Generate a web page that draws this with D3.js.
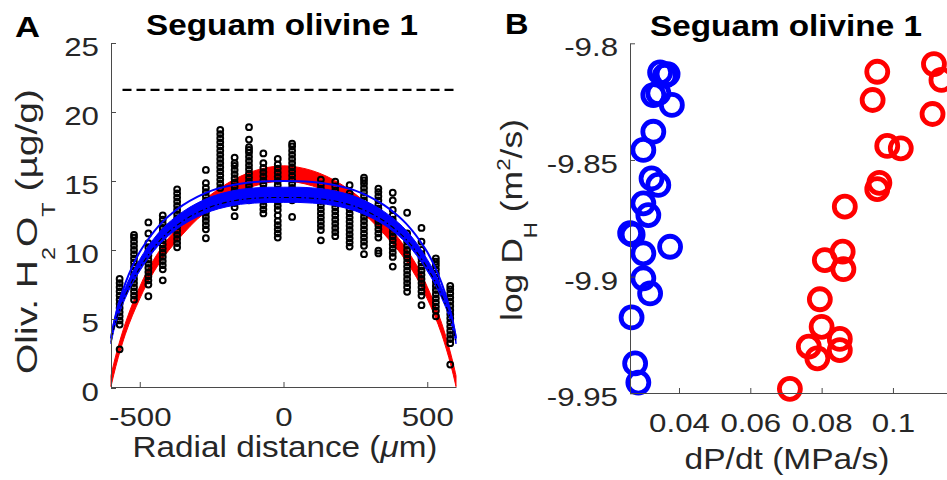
<!DOCTYPE html>
<html><head><meta charset="utf-8">
<script src="https://cdn.jsdelivr.net/npm/d3@7"></script>
<style>body{margin:0;background:#fff}svg{display:block}text{font-family:"Liberation Sans",Arial,sans-serif}</style>
</head><body><svg id="c" width="947" height="480"></svg>
<script>
// ---------- Panel A data ----------
const colX = [-570,-520,-470,-420,-370,-270,-220,-170,-120,-70,-20,30,130,180,230,280,330,380,430,480,530,580];
const colY = [
 [2.8,4.6,4.9,5.2,5.5,5.8,6.1,6.4,6.7,7.0,7.3,7.6,7.9],
 [6.4,6.7,7.0,7.3,7.6,7.9,8.2,8.5,8.8,9.1,9.4,9.7,10.0,10.3,10.6,10.9,11.1],
 [6.65,7.5,7.8,8.1,8.4,8.7,9.0,9.3,9.6,9.9,10.2,10.5,11.2,12.0],
 [7.8,8.6,8.9,9.2,9.5,9.8,10.1,10.4,10.7,11.0,11.3,11.6,11.9,12.2,12.5],
 [10.2,10.5,10.8,11.1,11.4,11.7,12.0,12.3,12.6,12.9,13.2,13.5,13.8,14.1,14.4],
 [10.85,11.5,11.8,12.1,12.4,12.7,13.0,13.3,13.6,13.9,14.2,14.5,14.85,15.8],
 [14.5,14.8,15.1,15.4,15.7,16.0,16.3,16.6,16.9,17.2,17.5,17.8,18.1,18.4,18.7],
 [12.45,13.1,13.4,13.7,14.0,14.3,14.6,14.9,15.2,15.5,15.8,16.1,16.3,16.7],
 [13.6,14.35,14.65,14.95,15.25,15.55,15.85,16.15,16.45,16.75,17.05,17.25,17.45,18.0,18.9],
 [12.65,12.95,13.25,13.55,13.85,14.15,14.45,14.75,15.05,15.35,15.65,15.95,16.3,17.0],
 [10.9,11.2,11.5,11.8,12.1,12.5,12.9,13.2,13.5,13.8,14.1,14.4,14.7,15.0,15.3,15.6,15.9,16.2,16.6],
 [12.4,13.6,13.9,14.2,14.5,14.8,15.1,15.4,15.7,16.0,16.3,16.6,16.9,17.2,17.5,17.7],
 [10.7,11.45,11.75,12.05,12.35,12.65,12.95,13.25,13.55,13.85,14.15,14.45,14.75,15.1],
 [11.0,11.3,11.6,11.9,12.2,12.5,12.8,13.1,13.4,13.7,14.0,14.3,14.6,14.95],
 [10.25,10.55,10.85,11.15,11.45,11.75,12.05,12.35,12.65,12.95,13.25,13.55,13.85,14.1,14.7],
 [9.7,10.3,10.6,10.9,11.2,11.5,11.8,12.1,12.4,12.7,13.0,13.3,13.6,13.9,14.2,14.5,14.8,15.05,15.25],
 [9.75,9.95,10.9,11.2,11.5,11.8,12.1,12.4,12.7,13.0,13.3,13.6,13.9,14.2,14.45],
 [8.8,9.5,9.8,10.1,10.4,10.7,11.0,11.3,11.6,11.9,12.2,12.5,12.9,13.6,14.15],
 [6.97,7.3,7.6,7.9,8.2,8.5,8.8,9.1,9.4,9.7,10.0,10.3,10.6,10.9,11.2,12.7],
 [6.0,6.7,7.0,7.3,7.6,7.9,8.2,8.5,8.8,9.1,9.4,9.7,10.0,10.6,11.6],
 [5.2,5.6,5.9,6.2,6.5,6.8,7.1,7.4,7.7,8.0,8.3,8.6,8.9,9.15,9.4],
 [1.7,3.25,3.55,3.85,4.15,4.45,4.75,5.05,5.35,5.65,5.95,6.25,6.55,6.85,7.15,7.4]
];
const profX = [-600,-590,-575,-550,-525,-500,-475,-450,-425,-400,-350,-300,-250,-200,-150,-100,-50,0,50,100,150,200,250,300,350,400,425,450,475,500,525,550,575,590,600];
const redUpper = [0.9,1.8,3.0,4.7,6.12,7.34,8.45,9.35,10.15,10.85,12.05,13.17,14.05,14.77,15.34,15.75,16.0,16.1,16.0,15.75,15.34,14.77,14.05,13.17,12.05,10.85,10.15,9.35,8.45,7.34,6.12,4.7,3.0,1.8,0.9];
const redLower = [0.1,1.0,2.2,3.9,5.28,6.46,7.55,8.45,9.25,9.95,11.15,12.23,13.05,13.73,14.26,14.65,14.9,15.0,14.9,14.65,14.26,13.73,13.05,12.23,11.15,9.95,9.25,8.45,7.55,6.46,5.28,3.9,2.2,1.0,0.1];
const blueUpper = [3.8,4.82,5.95,7.28,8.4,9.32,10.14,10.85,11.46,11.97,12.78,13.4,13.87,14.18,14.39,14.5,14.55,14.55,14.55,14.5,14.39,14.18,13.87,13.4,12.78,11.97,11.46,10.85,10.14,9.32,8.4,7.28,5.95,4.82,3.8];
const blueLower = [3.2,4.18,5.25,6.52,7.6,8.48,9.26,9.95,10.54,11.03,11.82,12.4,12.83,13.12,13.31,13.4,13.45,13.45,13.45,13.4,13.31,13.12,12.83,12.4,11.82,11.03,10.54,9.95,9.26,8.48,7.6,6.52,5.25,4.18,3.2];
const blueLine = [3.6,4.7,6.0,7.6,8.85,9.85,10.65,11.35,11.95,12.45,13.25,13.85,14.3,14.6,14.8,14.92,14.98,15.0,14.98,14.92,14.8,14.6,14.3,13.85,13.25,12.45,11.95,11.35,10.65,9.85,8.85,7.6,6.0,4.7,3.6];
const bestFit = [3.3,4.3,5.4,6.7,7.8,8.7,9.5,10.2,10.8,11.3,12.1,12.7,13.15,13.45,13.65,13.75,13.8,13.8,13.8,13.75,13.65,13.45,13.15,12.7,12.1,11.3,10.8,10.2,9.5,8.7,7.8,6.7,5.4,4.3,3.3];
const refLevel = 21.6;
const refX = [-560, 600];
const xTicksA = [-500, 0, 500];
const yTicksA = [0, 5, 10, 15, 20, 25];

// ---------- Panel B data ----------
const blueDP = [0.0347,0.0360,0.0368,0.0328,0.0342,0.0380,0.0328,0.0300,0.0323,0.0342,0.0300,0.0314,0.0263,0.0270,0.0375,0.0300,0.0300,0.0319,0.0267,0.0277,0.0286];
const blueD  = [-9.8125,-9.8140,-9.8132,-9.8222,-9.8214,-9.8264,-9.8379,-9.8457,-9.8579,-9.8607,-9.8686,-9.8736,-9.8814,-9.8820,-9.8872,-9.8900,-9.9007,-9.9072,-9.9175,-9.9372,-9.9454];
const redDP = [0.0956,0.1115,0.1136,0.0943,0.1111,0.0984,0.1022,0.0962,0.0956,0.0865,0.0859,0.0809,0.0861,0.0795,0.0800,0.0851,0.0764,0.0788,0.0851,0.0711];
const redD  = [-9.8122,-9.8089,-9.8157,-9.8243,-9.8303,-9.8440,-9.8450,-9.8598,-9.8625,-9.8700,-9.8893,-9.8929,-9.8968,-9.9097,-9.9215,-9.9267,-9.9300,-9.9350,-9.9315,-9.9481];
const xTicksB = [0.04, 0.06, 0.08, 0.1];
const yTicksB = [-9.95, -9.9, -9.85, -9.8];

// ---------- drawing ----------
const svg = d3.select("#c");
svg.append("rect").attr("width",947).attr("height",480).attr("fill","#fff");
const AXC = "#4a4a4a", TXT = "#262626";
const TICKFONT = 25, TICKSTRETCH = 1.25;

function stretchTicks(sel, s){
  sel.each(function(){
    const t = d3.select(this);
    const x = +t.attr("x")||0, y = +t.attr("y")||0;
    t.attr("x",0).attr("y",0).attr("transform",`translate(${x},${y}) scale(${s},1)`);
  });
}
function styleAxis(g){
  g.select(".domain").attr("stroke",AXC).attr("stroke-width",1);
  g.selectAll(".tick line").attr("stroke",AXC).attr("stroke-width",1);
  g.selectAll("text").attr("fill",TXT).attr("font-size",TICKFONT).attr("font-family","Liberation Sans, Arial, sans-serif");
}
function label(x, y, target, rot, size, bold, build){
  const t = svg.append("text").attr("x",0).attr("y",0).attr("text-anchor",rot==="start"?"start":"middle")
    .attr("font-size",size).attr("fill",bold?"#000":TXT).attr("font-weight",bold?"bold":"normal");
  build(t);
  const L = t.node().getComputedTextLength();
  const s = target / L;
  t.attr("transform",`translate(${x},${y})${rot===true?" rotate(-90)":""} scale(${s},1)`);
  return t;
}

// Panel A scales
const xA = d3.scaleLinear([-600,600],[111,456]);
const yA = d3.scaleLinear([0,25],[388,43]);
const curve = d3.curveCatmullRom.alpha(0.5);

const areaA = (up, lo) => d3.area().x((d,i)=>xA(profX[i])).y0((d,i)=>yA(lo[i])).y1((d,i)=>yA(up[i])).curve(curve)(profX);
const lineA = (vals) => d3.line().x((d,i)=>xA(profX[i])).y((d,i)=>yA(vals[i])).curve(curve)(profX);

// reference dashed line
svg.append("line").attr("x1",xA(refX[0])).attr("x2",xA(refX[1])).attr("y1",yA(refLevel)).attr("y2",yA(refLevel))
  .attr("stroke","#000").attr("stroke-width",2.4).attr("stroke-dasharray","9,5");

// red band
svg.append("path").attr("d",areaA(redUpper,redLower)).attr("fill","#ff0000").attr("stroke","#ff0000").attr("stroke-width",1);

// data points
const pts = [];
colX.forEach((x,i)=>colY[i].forEach(y=>pts.push([x,y])));
svg.append("g").selectAll("circle").data(pts).join("circle")
  .attr("cx",d=>xA(d[0])).attr("cy",d=>yA(d[1])).attr("r",2.9)
  .attr("fill","none").attr("stroke","#000").attr("stroke-width",2);

// blue band + line + best fit
svg.append("path").attr("d",areaA(blueUpper,blueLower)).attr("fill","#0000ff").attr("stroke","#0000ff").attr("stroke-width",1);
svg.append("path").attr("d",lineA(blueLine)).attr("fill","none").attr("stroke","#0000ff").attr("stroke-width",2);
svg.append("path").attr("d",lineA(bestFit)).attr("fill","none").attr("stroke","#000").attr("stroke-width",1.1).attr("stroke-dasharray","5,3,1.5,3");

// axes A
const gxA = svg.append("g").attr("transform","translate(0,387)")
  .call(d3.axisBottom(xA).tickValues(xTicksA).tickSizeInner(-5).tickSizeOuter(0).tickFormat(d=>String(d)));
styleAxis(gxA);
gxA.selectAll("text").attr("y",39).attr("dy",0);
stretchTicks(gxA.selectAll("text"), TICKSTRETCH);
const gyA = svg.append("g").attr("transform","translate(111,0)")
  .call(d3.axisLeft(yA).tickValues(yTicksA).tickSizeInner(-5).tickSizeOuter(0).tickFormat(d=>String(d)));
styleAxis(gyA);
gyA.selectAll("text").attr("x",-12).attr("dy","0.5em");
stretchTicks(gyA.selectAll("text"), TICKSTRETCH);

// Panel B scales
const xB = d3.scaleLinear([0.02626,0.116],[630,950]);
const yB = d3.scaleLinear([-9.95,-9.8],[393.3,43.3]);

svg.append("g").selectAll("circle").data(blueDP.map((v,i)=>[v,blueD[i]])).join("circle")
  .attr("cx",d=>xB(d[0])).attr("cy",d=>yB(d[1])).attr("r",10.5)
  .attr("fill","none").attr("stroke","#0000ff").attr("stroke-width",4.8);
svg.append("g").selectAll("circle").data(redDP.map((v,i)=>[v,redD[i]])).join("circle")
  .attr("cx",d=>xB(d[0])).attr("cy",d=>yB(d[1])).attr("r",10.5)
  .attr("fill","none").attr("stroke","#ff0000").attr("stroke-width",4.8);

const gxB = svg.append("g").attr("transform","translate(0,393)")
  .call(d3.axisBottom(xB).tickValues(xTicksB).tickSizeInner(-5).tickSizeOuter(0).tickFormat(d=>String(d)));
styleAxis(gxB);
gxB.selectAll("text").attr("y",39).attr("dy",0);
stretchTicks(gxB.selectAll("text"), TICKSTRETCH);
const gyB = svg.append("g").attr("transform","translate(630,0)")
  .call(d3.axisLeft(yB).tickValues(yTicksB).tickSizeInner(-5).tickSizeOuter(0).tickFormat(d=>String(d)));
styleAxis(gyB);
gyB.selectAll("text").attr("x",-12).attr("dy","0.5em");
stretchTicks(gyB.selectAll("text"), TICKSTRETCH);

// Titles and panel letters
label(15, 36.7, 25, "start", 30, true, t=>t.text("A"));
label(505, 34, 23.5, "start", 30, true, t=>t.text("B"));
label(282, 35, 272, false, 30, true, t=>t.text("Seguam olivine 1"));
label(786, 36, 272, false, 30, true, t=>t.text("Seguam olivine 1"));

// Axis labels
label(285, 457, 305, false, 29, false, t=>{
  t.append("tspan").text("Radial distance (");
  t.append("tspan").attr("font-style","italic").text("\u03BC");
  t.append("tspan").text("m)");
});
label(787, 469, 205, false, 29, false, t=>t.text("dP/dt (MPa/s)"));
label(36.7, 231.5, 285, true, 30, false, t=>{
  t.append("tspan").text("Oliv. H");
  t.append("tspan").attr("font-size",18).attr("dy",18).text("2");
  t.append("tspan").attr("dy",-18).text("O");
  t.append("tspan").attr("font-size",18).attr("dy",18).text("T");
  t.append("tspan").attr("dy",-18).text(" (\u00B5g/g)");
});
label(521.7, 220, 202, true, 30, false, t=>{
  t.append("tspan").text("log D");
  t.append("tspan").attr("font-size",19).attr("dy",15).text("H");
  t.append("tspan").attr("dy",-15).text(" (m");
  t.append("tspan").attr("font-size",19).attr("dy",-12).text("2");
  t.append("tspan").attr("dy",12).text("/s)");
});
</script></body></html>
